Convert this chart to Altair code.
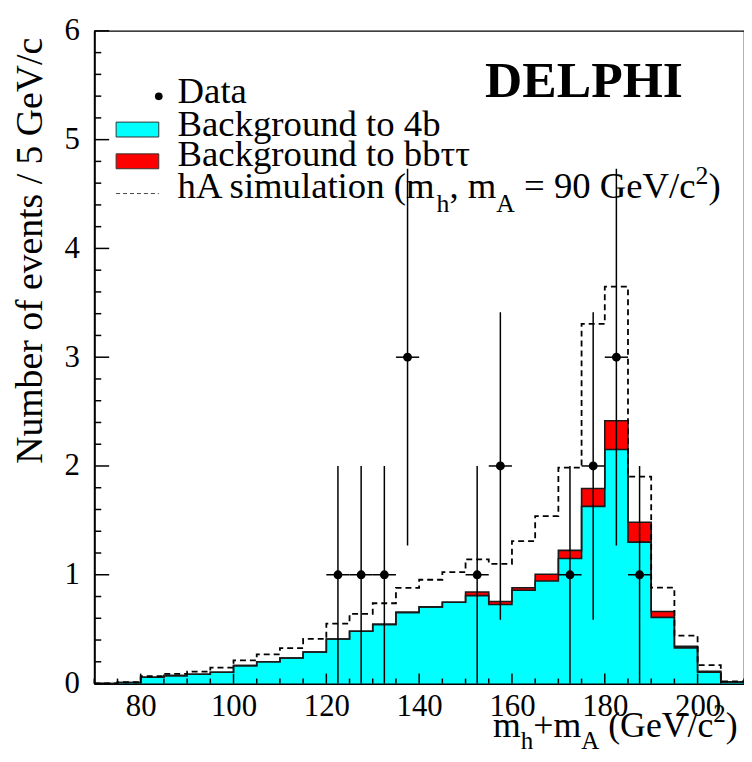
import altair as alt
import pandas as pd

FONT = "Liberation Serif"

# ---------------- data ----------------
bin_lo = list(range(70, 210, 5))  # 5 GeV/c^2 bins, 70..205
bg_4b = [0.0, 0.01, 0.058, 0.073, 0.085, 0.104, 0.165, 0.20, 0.235, 0.29,
         0.41, 0.48, 0.544, 0.654, 0.705, 0.748, 0.808, 0.726, 0.857, 0.942,
         1.149, 1.629, 2.151, 1.30, 0.608, 0.328, 0.105, 0.015]
bg_bbtt = [0, 0, 0, 0, 0, 0, 0, 0, 0, 0, 0, 0, 0, 0, 0, 0,
           0.033, 0.028, 0.024, 0.063, 0.075, 0.164, 0.265, 0.183, 0.054, 0.015, 0.007, 0.0]
hA_sim = [0.002, 0.012, 0.067, 0.088, 0.11, 0.146, 0.213, 0.268, 0.326, 0.41,
          0.55, 0.641, 0.738, 0.88, 0.954, 1.024, 1.142, 1.10, 1.31, 1.54,
          1.984, 3.306, 3.649, 1.902, 0.881, 0.44, 0.17, 0.02]

data_x = [122.5, 127.5, 132.5, 137.5, 152.5, 157.5, 172.5, 177.5, 182.5, 187.5]
data_n = [1, 1, 1, 3, 1, 2, 1, 2, 3, 1]

x_labels = [80, 100, 120, 140, 160, 180, 200]
y_labels = [0, 1, 2, 3, 4, 5, 6]

W, H = 655, 658

# ---------------- tables ----------------
total = [a + b for a, b in zip(bg_4b, bg_bbtt)]
step = pd.DataFrame({
    "x": bin_lo + [210],
    "b4": bg_4b + [bg_4b[-1]],
    "tot": total + [total[-1]],
    "hA": hA_sim + [hA_sim[-1]],
    "zero": [0.0] * (len(bin_lo) + 1),
})
err = [n ** 0.5 for n in data_n]
pts = pd.DataFrame({
    "x": data_x, "n": data_n,
    "lo": [n - e for n, e in zip(data_n, err)],
    "hi": [n + e for n, e in zip(data_n, err)],
    "xl": [x - 2.5 for x in data_x],
    "xh": [x + 2.5 for x in data_x],
})

xs = alt.Scale(domain=[70, 210], nice=False, zero=False)
ys = alt.Scale(domain=[0, 6], nice=False, zero=False)
xaxis = alt.Axis(values=x_labels, ticks=False, tickSize=0, grid=False, title="",
                 labelFont=FONT, labelFontSize=31, labelColor="black", labelPadding=8,
                 labelFlush=False, domainColor="black", domainWidth=2)
yaxis = alt.Axis(values=y_labels, ticks=False, tickSize=0, grid=False, title="",
                 labelFont=FONT, labelFontSize=31, labelColor="black", labelPadding=15,
                 labelFlush=False, domainColor="black", domainWidth=2)


def X(f):
    return alt.X(f, type="quantitative", scale=xs, axis=xaxis)


def Y(f):
    return alt.Y(f, type="quantitative", scale=ys, axis=yaxis)


LINEC = "#1a1a1a"
layers = []
# filled histograms
layers.append(alt.Chart(step).mark_area(interpolate="step-after", color="#00FFFF", opacity=1)
              .encode(x=X("x"), y=Y("b4"), y2="zero"))
layers.append(alt.Chart(step).mark_area(interpolate="step-after", color="#FF0000", opacity=1)
              .encode(x=X("x"), y=Y("tot"), y2="b4"))
# outlines
layers.append(alt.Chart(step).mark_line(interpolate="step-after", color=LINEC, strokeWidth=1.6)
              .encode(x=X("x"), y=Y("b4")))
layers.append(alt.Chart(step).mark_line(interpolate="step-after", color=LINEC, strokeWidth=1.6)
              .encode(x=X("x"), y=Y("tot")))
# hA simulation (dashed)
layers.append(alt.Chart(step).mark_line(interpolate="step-after", color="black", strokeWidth=1.8,
                                        strokeDash=[6, 4])
              .encode(x=X("x"), y=Y("hA")))
# data with errors
layers.append(alt.Chart(pts).mark_rule(color="black", strokeWidth=1.5)
              .encode(x=X("x"), y=Y("lo"), y2="hi"))
layers.append(alt.Chart(pts).mark_rule(color="black", strokeWidth=1.5)
              .encode(x=X("xl"), x2="xh", y=Y("n")))
layers.append(alt.Chart(pts).mark_point(filled=True, shape="circle", color="black", size=80, opacity=1)
              .encode(x=X("x"), y=Y("n")))

# inward ticks
y_major = pd.DataFrame({"v": y_labels})
y_minor = pd.DataFrame({"v": [round(i * 0.2, 1) for i in range(31) if i % 5 != 0]})
x_major = pd.DataFrame({"v": x_labels})
x_minor = pd.DataFrame({"v": [v for v in range(70, 211, 5) if v % 20 != 0]})
layers.append(alt.Chart(y_major).mark_rule(color="black", strokeWidth=1.5)
              .encode(y=Y("v"), x=alt.value(0), x2=alt.value(15)))
layers.append(alt.Chart(y_minor).mark_rule(color="black", strokeWidth=1.5)
              .encode(y=Y("v"), x=alt.value(0), x2=alt.value(7)))
layers.append(alt.Chart(x_major).mark_rule(color="black", strokeWidth=1.5)
              .encode(x=X("v"), y=alt.value(H), y2=alt.value(H - 10)))
layers.append(alt.Chart(x_minor).mark_rule(color="black", strokeWidth=1.5)
              .encode(x=X("v"), y=alt.value(H), y2=alt.value(H - 5)))

# ---------------- text helpers ----------------
CW = {' ': 0.25, '(': 0.333, ')': 0.333, '+': 0.564, ',': 0.25, '/': 0.278, '=': 0.564,
      'A': 0.722, 'G': 0.722, 'V': 0.722, 'B': 0.667, 'a': 0.444, 'c': 0.444, 'e': 0.444,
      'h': 0.5, 'i': 0.278, 'l': 0.278, 'm': 0.778, 'n': 0.5, 'o': 0.5, 's': 0.389,
      't': 0.278, 'u': 0.5}


def tw(s):
    return sum(CW.get(ch, 0.5) for ch in s)


def text_layer(t, x, y, size, **kw):
    return (alt.Chart(pd.DataFrame({"t": [t]}))
            .mark_text(font=FONT, fontSize=size, color="black", **kw)
            .encode(text="t:N", x=alt.value(x), y=alt.value(y)))


def rich(segments, x0, y0, size, sub_scale=0.7, drop=14, rise=14):
    out = []
    x = x0
    for txt, kind in segments:
        fs = size if kind == "n" else size * sub_scale
        y = y0 + (drop if kind == "sub" else (-rise if kind == "sup" else 0))
        lead = len(txt) - len(txt.lstrip(" "))
        out.append(text_layer(txt.strip(" "), x + lead * 0.25 * fs, y, fs,
                              align="left", baseline="alphabetic"))
        x += tw(txt) * fs
    return out


LEG = 37
LX = 84
# legend: data
layers.append(alt.Chart(pd.DataFrame({"a": [0]})).mark_point(filled=True, shape="circle",
                                                             color="black", size=60, opacity=1)
              .encode(x=alt.value(65), y=alt.value(66)))
layers.append(text_layer("Data", LX, 73, LEG, align="left", baseline="alphabetic"))
# legend: boxes
layers.append(alt.Chart(pd.DataFrame({"a": [0]})).mark_rect(color="#00FFFF", stroke="#333",
                                                            strokeWidth=1)
              .encode(x=alt.value(22), x2=alt.value(65), y=alt.value(92), y2=alt.value(107)))
layers.append(text_layer("Background to 4b", LX, 106, LEG, align="left", baseline="alphabetic"))
layers.append(alt.Chart(pd.DataFrame({"a": [0]})).mark_rect(color="#FF0000", stroke="#333",
                                                            strokeWidth=1)
              .encode(x=alt.value(22), x2=alt.value(65), y=alt.value(124), y2=alt.value(139)))
layers.append(text_layer("Background to bbττ", LX, 136, LEG, align="left", baseline="alphabetic"))
layers.append(alt.Chart(pd.DataFrame({"a": [0]})).mark_rule(color="#444", strokeWidth=1,
                                                            strokeDash=[4, 3])
              .encode(x=alt.value(22), x2=alt.value(65), y=alt.value(164)))
layers += rich([("hA simulation (m", "n"), ("h", "sub"), (", m", "n"), ("A", "sub"),
                (" = 90 GeV/c", "n"), ("2", "sup"), (")", "n")], LX, 169, LEG,
               drop=14, rise=15)

# DELPHI label
layers.append(text_layer("DELPHI", 394, 67, 52, align="left", baseline="alphabetic",
                         fontWeight="bold"))

# axis titles
layers.append(text_layer("Number of events / 5 GeV/c", -53, 7, 38, align="right",
                         baseline="alphabetic", angle=270))
layers += rich([("m", "n"), ("h", "sub"), ("+m", "n"), ("A", "sub"), (" (GeV/c", "n"),
                ("2", "sup"), (")", "n")], 402, 712, 36, drop=12, rise=15)

chart = (alt.layer(*layers)
         .properties(width=W, height=H, autosize=alt.AutoSizeParams(type="none"),
                     padding={"left": 87, "top": 20, "right": 0, "bottom": 70})
         .configure_view(stroke="black", strokeWidth=1.2))

chart.save("out.html", embed_options={"renderer": "svg", "actions": False})
